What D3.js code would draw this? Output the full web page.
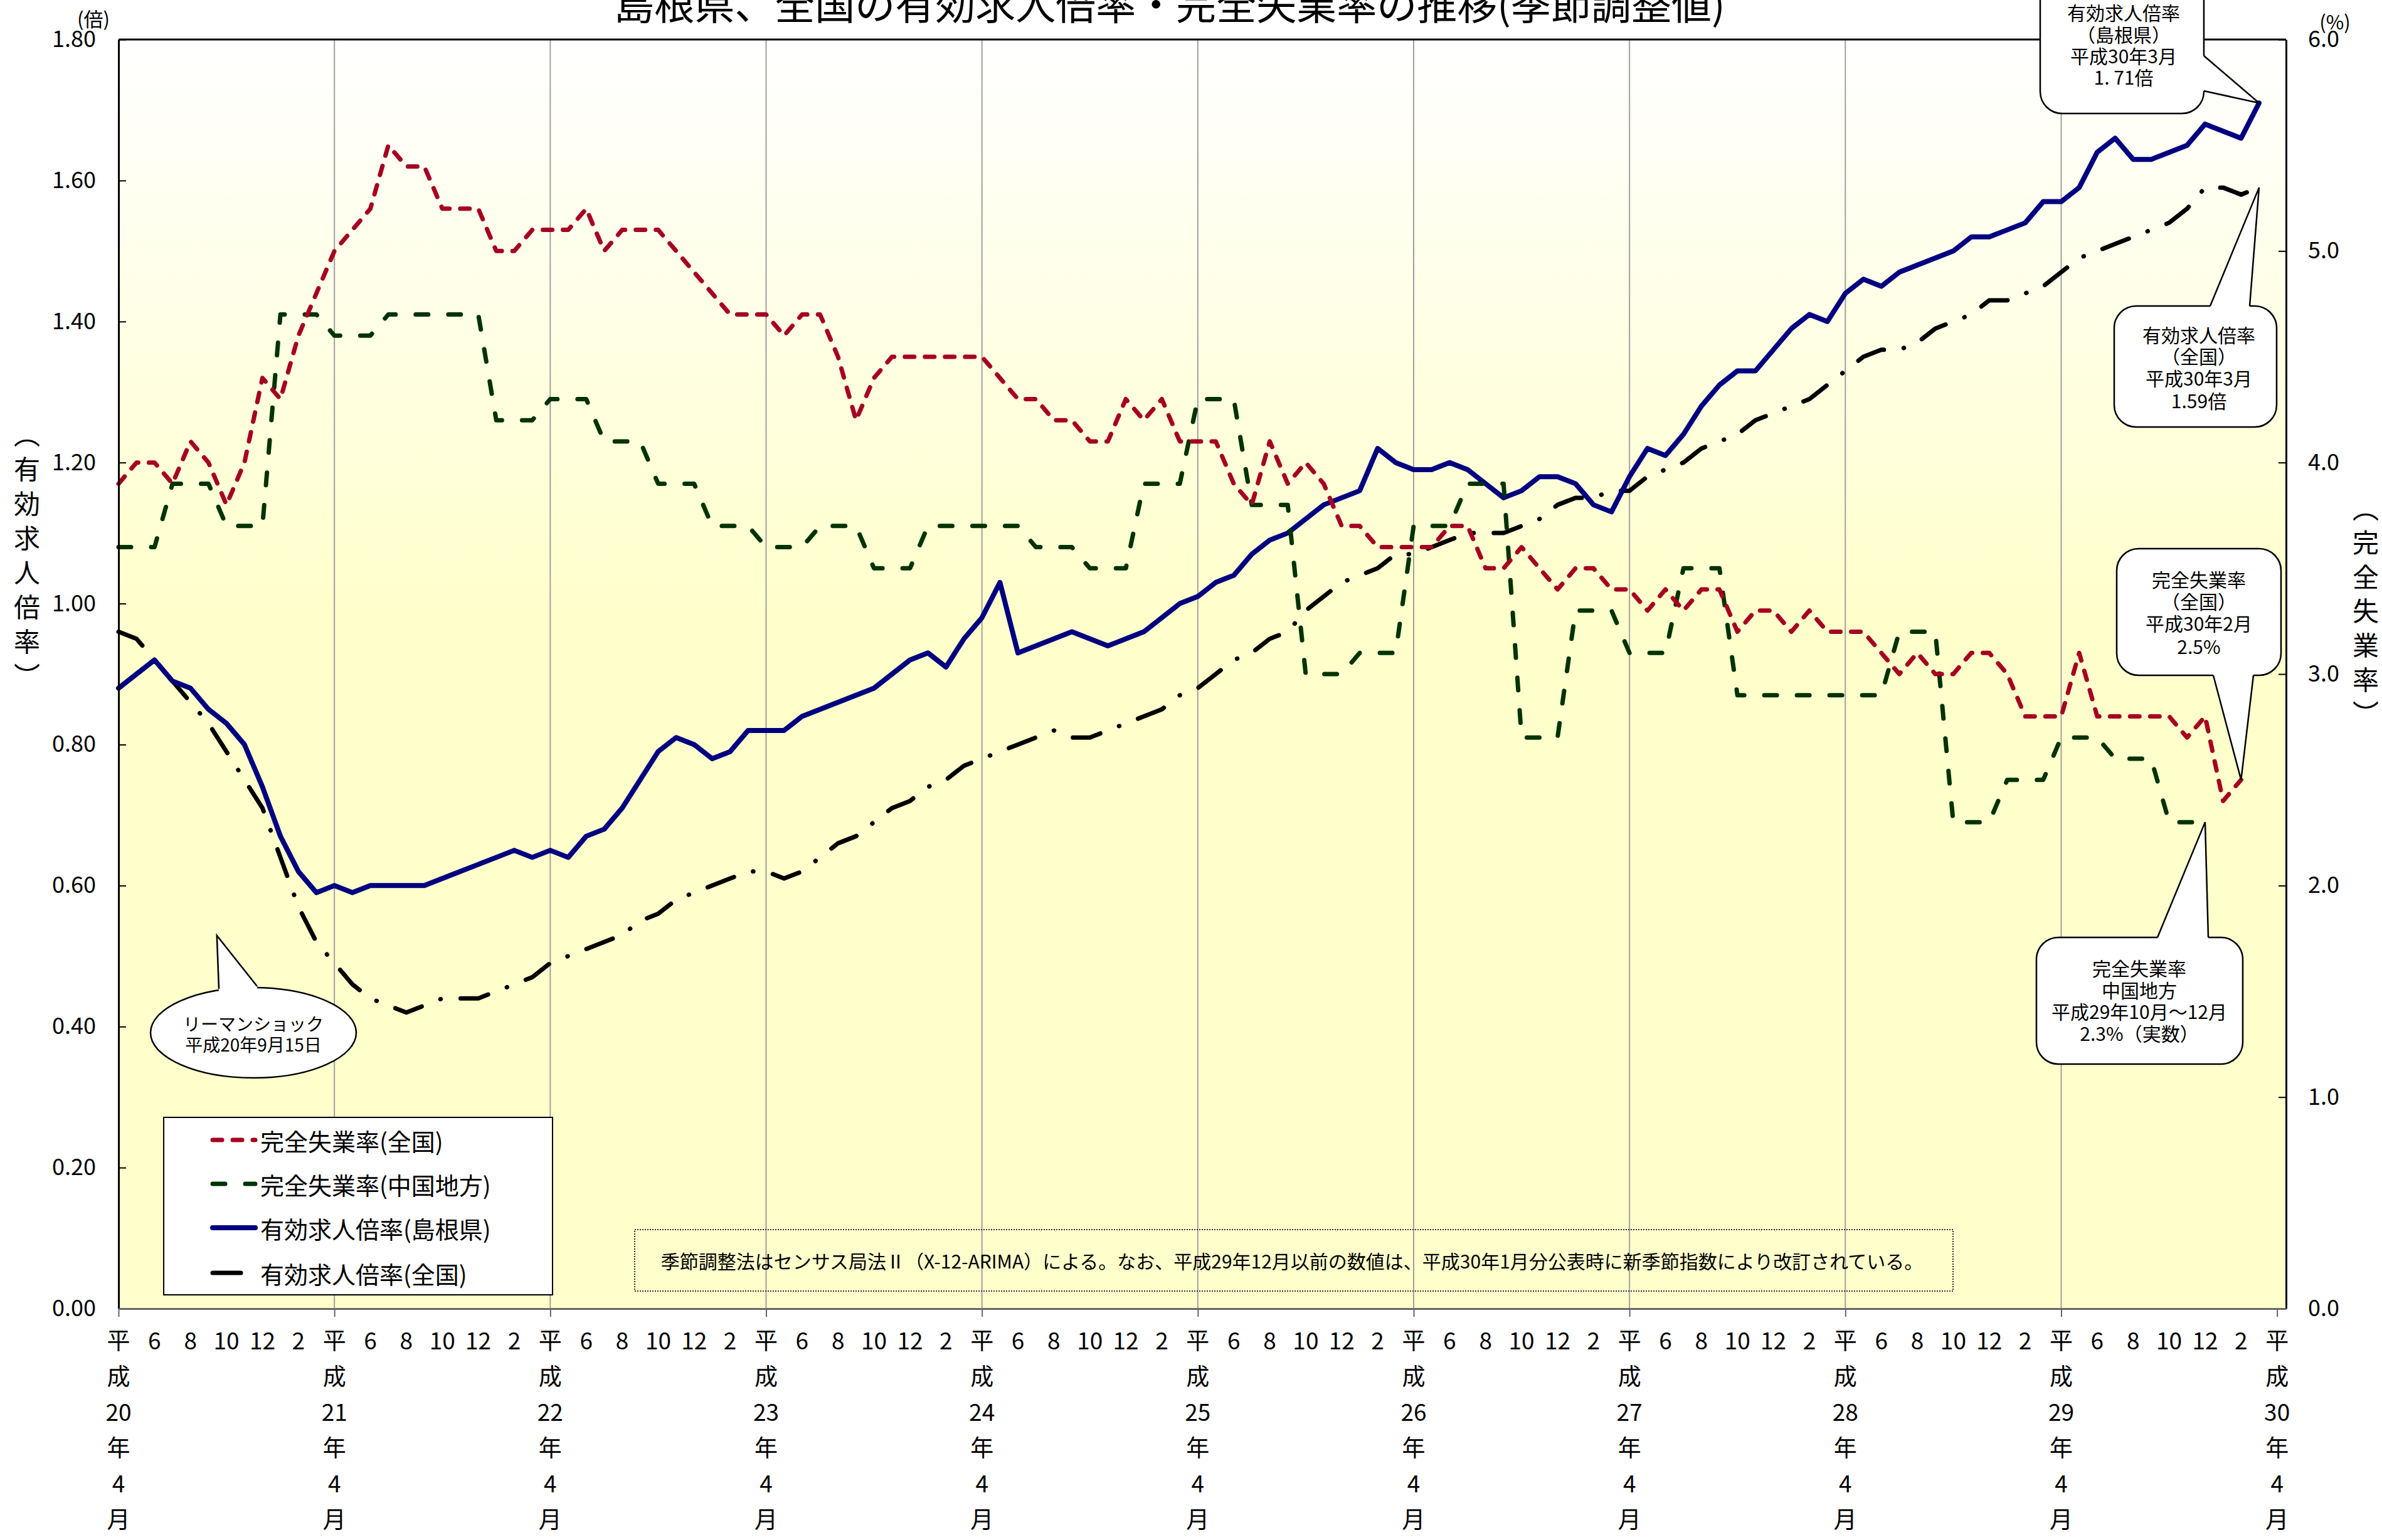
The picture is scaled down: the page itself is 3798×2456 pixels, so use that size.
<!DOCTYPE html>
<html lang="ja">
<head>
<meta charset="utf-8">
<script src="https://cdn.jsdelivr.net/npm/d3@7"></script>
<style>
  body { margin: 0; background: #fff; }
  svg text { font-family: "Noto Sans CJK JP", "Noto Sans", sans-serif; fill: #000; }
</style>
</head>
<body>
<svg id="chart"></svg>
<script>
var width = 3798, height = 2456;
var plot = { left: 189, right: 3645, top: 63, bottom: 2087 }

// x categories: month index 0 = 平成20年4月 ... 119 = 平成30年3月
var yearLabels = ["20", "21", "22", "23", "24", "25", "26", "27", "28", "29", "30"]
var monthLabels = ["6", "8", "10", "12", "2"]
var leftTicks = [0, 0.2, 0.4, 0.6, 0.8, 1.0, 1.2, 1.4, 1.6, 1.8]
var rightTicks = [0, 1, 2, 3, 4, 5, 6]

var seriesNames = ["完全失業率(全国)", "完全失業率(中国地方)", "有効求人倍率(島根県)", "有効求人倍率(全国)"]

// 有効求人倍率(島根県) 倍
var jobsShimane = [
    0.88, 0.90, 0.92, 0.89, 0.88, 0.85, 0.83, 0.80, 0.74, 0.67, 0.62, 0.59,
    0.60, 0.59, 0.60, 0.60, 0.60, 0.60, 0.61, 0.62, 0.63, 0.64, 0.65, 0.64,
    0.65, 0.64, 0.67, 0.68, 0.71, 0.75, 0.79, 0.81, 0.80, 0.78, 0.79, 0.82,
    0.82, 0.82, 0.84, 0.85, 0.86, 0.87, 0.88, 0.90, 0.92, 0.93, 0.91, 0.95,
    0.98, 1.03, 0.93, 0.94, 0.95, 0.96, 0.95, 0.94, 0.95, 0.96, 0.98, 1.00,
    1.01, 1.03, 1.04, 1.07, 1.09, 1.10, 1.12, 1.14, 1.15, 1.16, 1.22, 1.20,
    1.19, 1.19, 1.20, 1.19, 1.17, 1.15, 1.16, 1.18, 1.18, 1.17, 1.14, 1.13,
    1.18, 1.22, 1.21, 1.24, 1.28, 1.31, 1.33, 1.33, 1.36, 1.39, 1.41, 1.40,
    1.44, 1.46, 1.45, 1.47, 1.48, 1.49, 1.50, 1.52, 1.52, 1.53, 1.54, 1.57,
    1.57, 1.59, 1.64, 1.66, 1.63, 1.63, 1.64, 1.65, 1.68, 1.67, 1.66, 1.71]

// 有効求人倍率(全国) 倍
var jobsJapan = [
    0.96, 0.95, 0.92, 0.89, 0.86, 0.83, 0.79, 0.75, 0.71, 0.64, 0.57, 0.52,
    0.49, 0.46, 0.44, 0.43, 0.42, 0.43, 0.44, 0.44, 0.44, 0.45, 0.46, 0.47,
    0.49, 0.50, 0.51, 0.52, 0.53, 0.55, 0.56, 0.58, 0.59, 0.60, 0.61, 0.62,
    0.62, 0.61, 0.62, 0.64, 0.66, 0.67, 0.69, 0.71, 0.72, 0.74, 0.75, 0.77,
    0.78, 0.79, 0.80, 0.81, 0.82, 0.81, 0.81, 0.82, 0.83, 0.84, 0.85, 0.87,
    0.88, 0.90, 0.92, 0.93, 0.95, 0.96, 0.99, 1.01, 1.03, 1.04, 1.05, 1.07,
    1.07, 1.08, 1.09, 1.10, 1.10, 1.10, 1.11, 1.12, 1.14, 1.15, 1.15, 1.16,
    1.16, 1.18, 1.19, 1.20, 1.22, 1.23, 1.24, 1.26, 1.27, 1.28, 1.29, 1.31,
    1.33, 1.35, 1.36, 1.36, 1.37, 1.39, 1.40, 1.41, 1.43, 1.43, 1.44, 1.45,
    1.47, 1.49, 1.50, 1.51, 1.52, 1.53, 1.54, 1.56, 1.59, 1.59, 1.58, 1.59]

// 完全失業率(全国) % (to 平成30年2月)
var unempJapan = [
    3.9, 4.0, 4.0, 3.9, 4.1, 4.0, 3.8, 4.0, 4.4, 4.3, 4.6, 4.8,
    5.0, 5.1, 5.2, 5.5, 5.4, 5.4, 5.2, 5.2, 5.2, 5.0, 5.0, 5.1,
    5.1, 5.1, 5.2, 5.0, 5.1, 5.1, 5.1, 5.0, 4.9, 4.8, 4.7, 4.7,
    4.7, 4.6, 4.7, 4.7, 4.5, 4.2, 4.4, 4.5, 4.5, 4.5, 4.5, 4.5,
    4.5, 4.4, 4.3, 4.3, 4.2, 4.2, 4.1, 4.1, 4.3, 4.2, 4.3, 4.1,
    4.1, 4.1, 3.9, 3.8, 4.1, 3.9, 4.0, 3.9, 3.7, 3.7, 3.6, 3.6,
    3.6, 3.6, 3.7, 3.7, 3.5, 3.5, 3.6, 3.5, 3.4, 3.5, 3.5, 3.4,
    3.4, 3.3, 3.4, 3.3, 3.4, 3.4, 3.2, 3.3, 3.3, 3.2, 3.3, 3.2,
    3.2, 3.2, 3.1, 3.0, 3.1, 3.0, 3.0, 3.1, 3.1, 3.0, 2.8, 2.8,
    2.8, 3.1, 2.8, 2.8, 2.8, 2.8, 2.8, 2.7, 2.8, 2.4, 2.5]

// 完全失業率(中国地方) % quarterly, repeated for each month (to 平成29年12月)
var unempChugoku = [
    3.6, 3.6, 3.6, 3.9, 3.9, 3.9, 3.7, 3.7, 3.7, 4.7, 4.7, 4.7,
    4.6, 4.6, 4.6, 4.7, 4.7, 4.7, 4.7, 4.7, 4.7, 4.2, 4.2, 4.2,
    4.3, 4.3, 4.3, 4.1, 4.1, 4.1, 3.9, 3.9, 3.9, 3.7, 3.7, 3.7,
    3.6, 3.6, 3.6, 3.7, 3.7, 3.7, 3.5, 3.5, 3.5, 3.7, 3.7, 3.7,
    3.7, 3.7, 3.7, 3.6, 3.6, 3.6, 3.5, 3.5, 3.5, 3.9, 3.9, 3.9,
    4.3, 4.3, 4.3, 3.8, 3.8, 3.8, 3.0, 3.0, 3.0, 3.1, 3.1, 3.1,
    3.7, 3.7, 3.7, 3.9, 3.9, 3.9, 2.7, 2.7, 2.7, 3.3, 3.3, 3.3,
    3.1, 3.1, 3.1, 3.5, 3.5, 3.5, 2.9, 2.9, 2.9, 2.9, 2.9, 2.9,
    2.9, 2.9, 2.9, 3.2, 3.2, 3.2, 2.3, 2.3, 2.3, 2.5, 2.5, 2.5,
    2.7, 2.7, 2.7, 2.6, 2.6, 2.6, 2.3, 2.3, 2.3]

var svg = d3.select("#chart")
    .attr("width", width)
    .attr("height", height)
    .attr("viewBox", "0 0 " + width + " " + height);

var x = d3.scaleLinear().domain([0, 120.5]).range([plot.left, plot.right]);
var yL = d3.scaleLinear().domain([0, 1.8]).range([plot.bottom, plot.top]);
var yR = d3.scaleLinear().domain([0, 6]).range([plot.bottom, plot.top]);

// background gradient (white -> pale yellow)
var defs = svg.append("defs");
var grad = defs.append("linearGradient")
    .attr("id", "bg").attr("x1", 0).attr("y1", 0).attr("x2", 0).attr("y2", 1);
grad.append("stop").attr("offset", "0%").attr("stop-color", "#ffffff");
grad.append("stop").attr("offset", "45%").attr("stop-color", "#ffffcc");
grad.append("stop").attr("offset", "100%").attr("stop-color", "#ffffcc");

svg.append("rect")
    .attr("x", plot.left).attr("y", plot.top)
    .attr("width", plot.right - plot.left)
    .attr("height", plot.bottom - plot.top)
    .attr("fill", "url(#bg)");

// vertical grid lines every year
svg.append("g").selectAll("line")
    .data(d3.range(12, 120, 12))
    .join("line")
    .attr("x1", d => x(d)).attr("x2", d => x(d))
    .attr("y1", plot.top).attr("y2", plot.bottom)
    .attr("stroke", "#a0a0a0")
    .attr("stroke-width", 2);

// top border
svg.append("line")
    .attr("x1", plot.left).attr("x2", plot.right)
    .attr("y1", plot.top).attr("y2", plot.top)
    .attr("stroke", "#000").attr("stroke-width", 3);

// note box
svg.append("rect")
    .attr("x", 1012).attr("y", 1961).attr("width", 2102).attr("height", 98)
    .attr("fill", "none")
    .attr("stroke", "#333")
    .attr("stroke-width", 2)
    .attr("stroke-dasharray", "2,2");
svg.append("text")
    .attr("x", 2060).attr("y", 2010)
    .attr("text-anchor", "middle")
    .attr("dominant-baseline", "central")
    .style("font-size", "30px")
    .text("季節調整法はセンサス局法Ⅱ（X-12-ARIMA）による。なお、平成29年12月以前の数値は、平成30年1月分公表時に新季節指数により改訂されている。");

// series lines
var styles = [
    { data: unempJapan, scale: yR, color: "#a50021", width: 7, dash: "15,17" },
    { data: unempChugoku, scale: yR, color: "#003300", width: 7, dash: "20,32" },
    { data: jobsShimane, scale: yL, color: "#000080", width: 8, dash: null },
    { data: jobsJapan, scale: yL, color: "#000000", width: 7, dash: "45,32,0.5,32" }
]
var drawOrder = [3, 2, 1, 0]

drawOrder.forEach(function (k) {
    var s = styles[k];
    var line = d3.line()
        .x((d, i) => x(i))
        .y(d => s.scale(d));
    svg.append("path")
        .datum(s.data)
        .attr("d", line)
        .attr("fill", "none")
        .attr("stroke", s.color)
        .attr("stroke-width", s.width)
        .attr("stroke-linejoin", "round")
        .attr("stroke-linecap", "round")
        .attr("stroke-dasharray", s.dash);
});

// axes
var leftAxis = svg.append("g")
    .attr("transform", "translate(" + plot.left + ",0)")
    .call(d3.axisLeft(yL).tickValues(leftTicks).tickFormat(d3.format(".2f"))
        .tickSizeInner(-12).tickSizeOuter(0).tickPadding(36));
var rightAxis = svg.append("g")
    .attr("transform", "translate(" + plot.right + ",0)")
    .call(d3.axisRight(yR).tickValues(rightTicks).tickFormat(d3.format(".1f"))
        .tickSizeInner(-12).tickSizeOuter(0).tickPadding(35));
var bottomAxis = svg.append("g")
    .attr("transform", "translate(0," + plot.bottom + ")")
    .call(d3.axisBottom(x).tickValues(d3.range(0, 121, 12)).tickFormat("")
        .tickSizeInner(13).tickSizeOuter(0));

[leftAxis, rightAxis].forEach(function (g) {
    g.attr("font-family", null).attr("font-size", null);
    g.select(".domain").attr("stroke", "#000").attr("stroke-width", 3);
    g.selectAll(".tick line").attr("stroke", "#000").attr("stroke-width", 2);
    g.selectAll(".tick text").style("font-size", "36px");
});
bottomAxis.select(".domain").attr("stroke", "#666").attr("stroke-width", 3);
bottomAxis.selectAll(".tick line").attr("stroke", "#666").attr("stroke-width", 2);

// x tick labels: every 2 months, year columns at April
var rowY = [2136, 2193, 2250, 2307, 2364, 2421];
var xl = svg.append("g").style("font-size", "37px").attr("text-anchor", "middle");
d3.range(0, 121, 2).forEach(function (m) {
    if (m % 12 === 0) {
        var col = ["平", "成", yearLabels[m / 12], "年", "4", "月"];
        col.forEach(function (t, r) {
            xl.append("text")
                .attr("x", x(m)).attr("y", rowY[r])
                .attr("dominant-baseline", "central")
                .text(t);
        });
    } else {
        xl.append("text")
            .attr("x", x(m)).attr("y", rowY[0])
            .attr("dominant-baseline", "central")
            .text(monthLabels[(m % 12) / 2 - 1]);
    }
});

// axis units and titles
svg.append("text").attr("x", 149).attr("y", 28)
    .attr("text-anchor", "middle").attr("dominant-baseline", "central")
    .style("font-size", "31px").text("(倍)");
svg.append("text").attr("x", 3723).attr("y", 33)
    .attr("text-anchor", "middle").attr("dominant-baseline", "central")
    .style("font-size", "31px").text("(%)");

var leftTitle = ["︵", "有", "効", "求", "人", "倍", "率", "︶"];
leftTitle.forEach(function (c, i) {
    svg.append("text").attr("x", 43).attr("y", 690 + i * 55)
        .attr("text-anchor", "middle").attr("dominant-baseline", "central")
        .style("font-size", "42px").text(c);
});
var rightTitle = ["︵", "完", "全", "失", "業", "率", "︶"];
rightTitle.forEach(function (c, i) {
    svg.append("text").attr("x", 3772).attr("y", 808 + i * 54.6)
        .attr("text-anchor", "middle").attr("dominant-baseline", "central")
        .style("font-size", "42px").text(c);
});

// title (partly cut off at the top in the original)
svg.append("text")
    .attr("x", 1865).attr("y", 31)
    .attr("text-anchor", "middle")
    .style("font-size", "64px")
    .text("島根県、全国の有効求人倍率・完全失業率の推移(季節調整値)");

// legend
var legend = svg.append("g");
legend.append("rect")
    .attr("x", 261).attr("y", 1782).attr("width", 620).attr("height", 283)
    .attr("fill", "#fff").attr("stroke", "#000").attr("stroke-width", 2);
var legendY = [1818, 1888, 1958, 2030];
seriesNames.forEach(function (name, i) {
    var s = styles[i];
    legend.append("line")
        .attr("x1", 339).attr("x2", 407)
        .attr("y1", legendY[i]).attr("y2", legendY[i])
        .attr("stroke", s.color)
        .attr("stroke-width", s.width)
        .attr("stroke-linecap", "round")
        .attr("stroke-dasharray", s.dash);
    legend.append("text")
        .attr("x", 415).attr("y", legendY[i])
        .attr("dominant-baseline", "central")
        .style("font-size", "38px")
        .text(name);
});

// callouts
function callout(box, side, b1, b2, tip, lines, cx, ys) {
    var g = svg.append("g");
    g.append("rect")
        .attr("x", box.x).attr("y", box.y).attr("width", box.w).attr("height", box.h)
        .attr("rx", 35).attr("ry", 35)
        .attr("fill", "#fff").attr("stroke", "#000").attr("stroke-width", 2.5);
    var p1, p2, q1, q2;
    if (side === "right") {
        p1 = [box.x + box.w, b1]; p2 = [box.x + box.w, b2];
        q1 = [p1[0] - 4, b1]; q2 = [p2[0] - 4, b2];
    } else if (side === "top") {
        p1 = [b1, box.y]; p2 = [b2, box.y];
        q1 = [b1, box.y + 4]; q2 = [b2, box.y + 4];
    } else {
        p1 = [b1, box.y + box.h]; p2 = [b2, box.y + box.h];
        q1 = [b1, p1[1] - 4]; q2 = [b2, p2[1] - 4];
    }
    g.append("polygon")
        .attr("points", [q1, p1, tip, p2, q2].map(p => p.join(",")).join(" "))
        .attr("fill", "#fff");
    g.append("polyline")
        .attr("points", [p1, tip, p2].map(p => p.join(",")).join(" "))
        .attr("fill", "none").attr("stroke", "#000").attr("stroke-width", 2.5);
    lines.forEach(function (t, i) {
        g.append("text")
            .attr("x", cx).attr("y", ys[i])
            .attr("text-anchor", "middle").attr("dominant-baseline", "central")
            .style("font-size", "30px")
            .text(t);
    });
}

callout({ x: 3253, y: -40, w: 261, h: 221 }, "right", 89, 145,
    [x(119), yL(jobsShimane[119])],
    ["有効求人倍率", "（島根県）", "平成30年3月", "1. 71倍"], 3386, [19, 54, 88, 122]);
callout({ x: 3371, y: 488, w: 259, h: 193 }, "top", 3524, 3587,
    [x(119), yL(jobsJapan[119])],
    ["有効求人倍率", "（全国）", "平成30年3月", "1.59倍"], 3506, [533, 567, 602, 638]);
callout({ x: 3375, y: 875, w: 262, h: 202 }, "bottom", 3529, 3593,
    [x(118), yR(unempJapan[118])],
    ["完全失業率", "（全国）", "平成30年2月", "2.5%"], 3506, [923, 958, 993, 1030]);
callout({ x: 3247, y: 1495, w: 329, h: 202 }, "top", 3440, 3521,
    [x(116), yR(unempChugoku[116])],
    ["完全失業率", "中国地方", "平成29年10月～12月", "2.3%（実数）"], 3411, [1543, 1578, 1612, 1647]);

// リーマンショック bubble (平成20年9月15日)
var lehman = svg.append("g");
var lx = x(5 + 14 / 30);
lehman.append("ellipse")
    .attr("cx", 404).attr("cy", 1647).attr("rx", 164).attr("ry", 72)
    .attr("fill", "#fff").attr("stroke", "#000").attr("stroke-width", 2.5);
lehman.append("polygon")
    .attr("points", [[349, 1581], [349, 1577], [lx, 1492], [410, 1573], [410, 1578]].map(p => p.join(",")).join(" "))
    .attr("fill", "#fff");
lehman.append("polyline")
    .attr("points", [[349, 1577], [lx, 1492], [410, 1573]].map(p => p.join(",")).join(" "))
    .attr("fill", "none").attr("stroke", "#000").attr("stroke-width", 2.5);
lehman.append("text").attr("x", 404).attr("y", 1632)
    .attr("text-anchor", "middle").attr("dominant-baseline", "central")
    .style("font-size", "28px").text("リーマンショック");
lehman.append("text").attr("x", 404).attr("y", 1665)
    .attr("text-anchor", "middle").attr("dominant-baseline", "central")
    .style("font-size", "28px").text("平成20年9月15日");
</script>
</body>
</html>
